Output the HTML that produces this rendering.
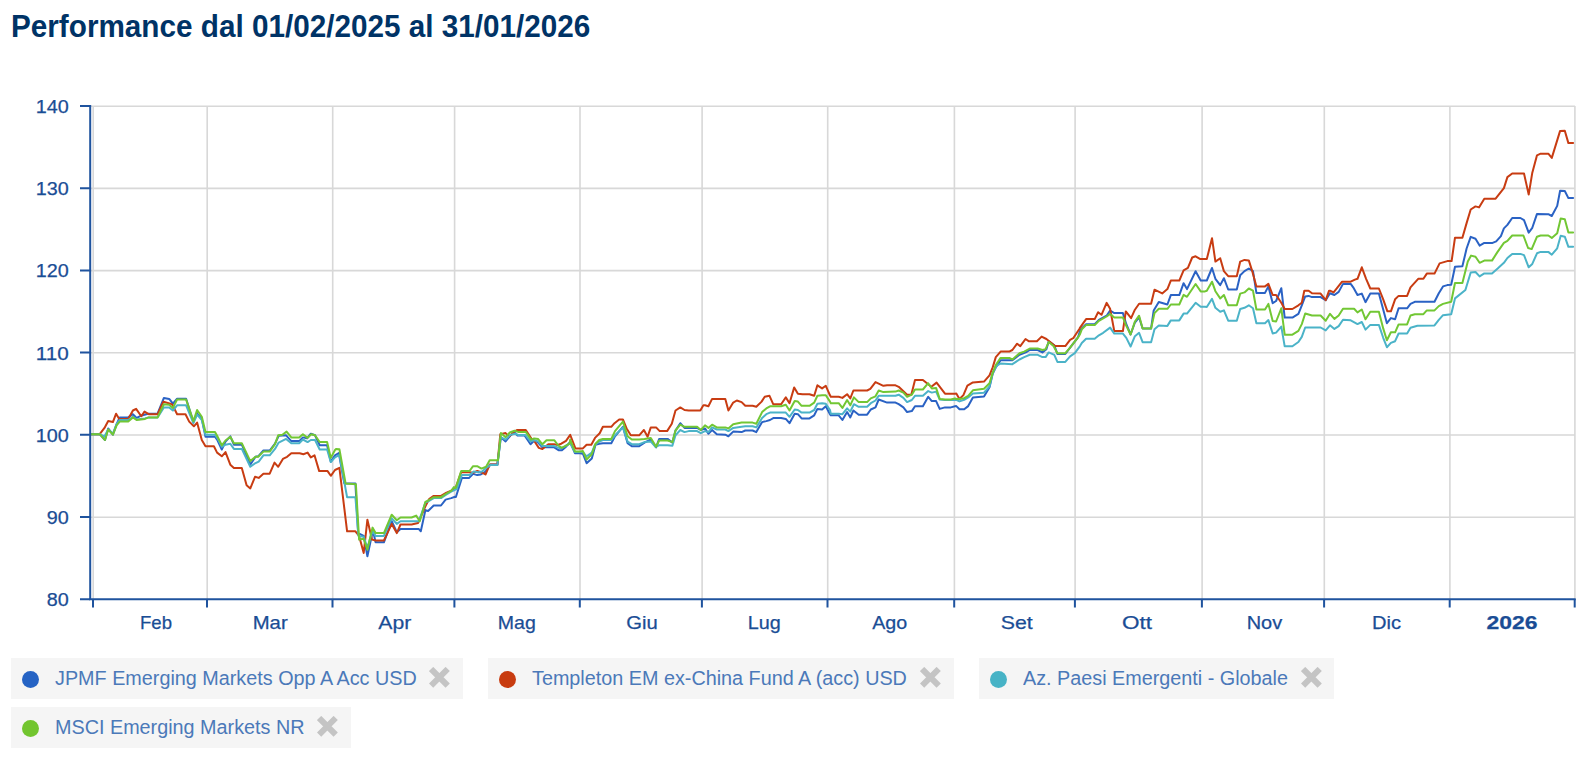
<!DOCTYPE html>
<html><head><meta charset="utf-8">
<style>
html,body{margin:0;padding:0;background:#fff;width:1591px;height:760px;overflow:hidden;}
body{position:relative;font-family:"Liberation Sans",sans-serif;}
#title{position:absolute;left:11px;top:9.0px;font-size:29.7px;font-weight:bold;color:#003366;white-space:nowrap;transform:scaleY(1.055);transform-origin:0 0;}
svg{position:absolute;left:0;top:0;}
.lg{position:absolute;height:41px;background:#f5f5f5;}
.lg .dot{position:absolute;left:11px;top:12.7px;width:17px;height:17px;border-radius:50%;}
.lg .t{position:absolute;left:44px;top:8.2px;font-size:19.8px;color:#4b79b9;white-space:nowrap;transform:scaleY(1.03);transform-origin:0 0;}
.lg svg{position:absolute;top:9px;}
</style></head><body>
<div id="title">Performance dal 01/02/2025 al 31/01/2026</div>
<svg width="1591" height="760" viewBox="0 0 1591 760">
<g stroke="#d8d8d8" stroke-width="1.6" fill="none"><path d="M91 106.20H1575M91 188.40H1575M91 270.60H1575M91 352.80H1575M91 435.00H1575M91 517.20H1575"/><path d="M93.20 106V599M207.20 106V599M332.70 106V599M454.60 106V599M580.00 106V599M702.10 106V599M827.70 106V599M954.40 106V599M1075.10 106V599M1202.10 106V599M1324.30 106V599M1449.90 106V599M1574.90 106V599"/></g>
<g fill="none" stroke-width="2" stroke-linejoin="round" stroke-linecap="round">
<path d="M91.3 434.2L99.7 434.2L105.0 440.0L108.2 428.4L112.9 434.7L116.6 424.2L119.7 417.4L128.2 417.4L132.9 414.2L136.6 417.9L140.8 415.8L148.2 413.7L157.6 413.7L163.9 397.9L169.2 398.9L172.9 403.7L177.1 398.7L186.1 398.7L193.4 422.1L197.1 413.7L201.8 418.9L205.5 436.8L215.0 436.8L217.6 440.5L221.8 449.5L225.5 441.6L230.3 436.3L233.9 444.7L241.8 444.7L250.3 464.7L255.5 456.8L258.2 456.3L263.4 450.5L269.7 450.5L275.0 443.7L278.7 435.8L286.1 435.3L291.3 441.1L299.2 441.1L302.9 437.4L307.1 438.4L310.8 433.7L315.0 435.3L319.7 445.3L327.1 445.3L330.8 461.6L335.0 455.3L338.8 453.0L344.3 483.4L355.4 483.4L358.1 533.1L363.7 535.9L367.4 556.2L372.9 530.4L375.6 542.3L383.9 542.3L391.7 521.2L396.8 532.2L400.5 529.1L418.9 529.1L420.8 531.3L425.4 510.1L428.1 511.0L433.7 505.5L441.0 505.5L445.6 499.6L451.2 498.1L455.0 496.7L455.9 497.0L461.8 478.1L468.9 478.1L473.1 473.9L477.2 475.1L480.8 474.5L485.5 471.6L490.3 464.5L497.4 464.5L500.9 437.2L505.6 441.4L510.4 435.5L514.5 432.5L517.5 435.5L524.6 435.5L530.5 444.3L534.1 440.8L537.6 442.0L542.4 447.3L554.2 447.3L558.9 450.3L561.9 450.3L565.4 447.3L570.2 442.0L574.9 453.2L580.0 453.2L582.9 453.7L586.6 463.2L591.8 458.4L595.5 444.7L599.2 443.7L602.9 443.2L611.3 443.2L615.0 436.3L622.9 426.8L627.6 443.2L631.8 446.3L639.2 446.3L644.5 442.6L650.8 439.5L656.1 447.4L659.2 438.9L667.6 438.9L672.4 442.6L675.5 430.5L680.3 423.2L684.5 427.9L697.1 427.9L700.8 430.0L705.0 428.4L708.4 433.7L712.1 430.0L716.8 434.2L725.3 434.7L728.4 436.3L733.2 431.6L741.6 432.1L745.3 430.5L752.6 430.5L756.3 432.1L762.1 422.1L766.3 421.1L770.0 420.0L773.7 417.9L781.1 417.9L785.8 418.9L789.5 423.2L794.7 413.7L797.9 414.2L801.6 418.4L809.5 418.4L814.2 415.3L817.4 408.9L822.1 409.5L825.8 406.3L830.0 414.2L830.8 415.3L838.7 415.3L842.4 420.0L847.1 412.1L850.3 417.4L853.4 410.5L858.7 414.7L867.1 414.7L870.8 409.5L875.5 407.4L878.7 399.5L887.1 402.6L895.5 402.6L898.7 404.2L903.4 407.4L907.1 412.1L911.8 411.1L915.0 406.3L922.9 406.3L928.2 396.8L931.8 401.1L936.1 401.1L939.7 408.9L945.0 407.4L950.8 407.4L955.0 406.3L956.3 406.1L959.5 409.3L964.2 409.3L968.2 406.1L972.9 397.4L984.0 396.6L989.5 387.2L992.7 373.7L995.8 367.4L1000.6 360.3L1012.4 360.3L1019.5 354.8L1025.8 352.4L1029.8 350.0L1037.7 350.0L1042.4 352.4L1046.4 349.2L1048.7 341.3L1054.3 345.3L1057.4 354.0L1065.3 354.0L1070.1 347.7L1078.0 337.4L1080.0 331.1L1081.0 329.3L1086.1 324.2L1094.7 324.2L1098.9 319.9L1106.6 315.7L1110.1 310.5L1114.3 313.1L1122.9 313.1L1126.3 324.2L1130.6 334.5L1134.9 322.5L1139.1 317.4L1142.6 328.5L1151.1 328.5L1153.7 310.5L1158.8 302.0L1167.4 304.5L1170.8 295.1L1179.3 295.1L1183.6 283.2L1187.0 289.1L1195.6 271.2L1200.7 280.6L1205.0 280.6L1206.8 280.5L1212.0 268.0L1215.4 278.8L1220.2 285.1L1223.9 278.2L1228.2 289.5L1236.8 289.5L1240.2 275.3L1244.5 271.1L1248.8 268.5L1253.0 271.1L1256.4 292.9L1265.0 292.9L1268.4 286.4L1272.7 303.2L1276.1 301.0L1281.3 288.2L1284.7 317.6L1292.4 317.6L1298.4 313.8L1301.8 305.3L1305.2 296.4L1308.6 295.9L1312.0 297.1L1320.6 297.1L1325.7 300.1L1330.0 293.3L1334.4 295.0L1338.7 291.9L1343.0 283.9L1350.7 283.9L1353.2 287.3L1357.5 295.0L1361.8 293.6L1365.5 302.2L1370.3 293.6L1378.9 293.6L1383.2 309.5L1386.9 323.2L1390.9 318.1L1395.1 319.3L1398.6 308.3L1407.1 308.3L1410.5 303.9L1414.8 301.8L1434.5 301.8L1438.8 293.3L1443.0 286.4L1447.3 285.1L1451.2 284.7L1455.0 266.8L1462.4 266.3L1466.6 248.5L1470.7 236.9L1475.5 238.8L1479.6 245.6L1484.3 242.9L1492.6 242.9L1496.2 241.4L1500.9 236.1L1503.9 228.4L1507.4 224.9L1512.2 218.0L1520.4 218.0L1524.0 220.1L1528.7 232.6L1532.3 227.8L1537.0 213.9L1548.3 214.2L1551.8 216.0L1557.2 205.9L1560.1 190.7L1564.8 191.0L1568.4 198.1L1573.1 198.1" stroke="#2a62c4"/>
<path d="M91.3 434.2L99.7 434.2L104.5 427.9L108.2 421.1L112.9 422.1L116.1 413.7L119.2 418.9L128.2 418.9L132.9 410.5L136.1 408.9L141.3 416.3L144.5 411.6L148.7 414.2L157.6 414.2L163.4 401.6L170.3 403.7L172.4 404.7L177.1 414.2L185.5 414.2L189.2 421.6L193.9 426.3L197.1 422.6L201.8 440.0L205.5 446.3L213.9 446.3L217.1 452.6L221.8 456.3L225.5 452.1L230.3 464.7L233.9 467.9L241.8 467.9L246.6 485.3L250.3 488.4L255.0 476.8L258.7 477.9L263.4 473.7L269.7 473.7L274.5 462.6L278.2 466.8L282.9 458.9L287.1 456.8L291.3 453.2L299.7 453.2L303.4 454.2L307.6 452.6L310.8 457.4L314.5 455.3L319.2 471.1L327.6 471.1L330.8 475.8L335.0 470.0L339.4 467.8L347.1 531.3L355.4 531.3L359.1 535.9L363.7 553.0L367.4 519.7L372.0 539.6L375.6 540.5L383.9 540.5L391.7 523.9L396.8 533.1L400.5 524.5L411.6 524.5L418.0 523.0L425.4 506.4L429.1 499.1L433.7 495.9L441.0 495.9L446.5 492.6L451.2 490.8L455.0 488.0L455.9 487.0L461.2 472.2L469.5 472.2L473.1 472.8L477.2 471.0L482.6 472.8L485.5 474.5L489.7 464.5L497.4 464.5L500.3 434.3L505.6 433.1L509.2 436.6L513.9 431.9L516.9 430.1L525.8 430.1L531.7 439.0L534.1 440.8L538.8 447.9L542.4 449.1L545.3 446.7L548.3 444.3L554.2 444.3L557.7 444.9L561.3 443.7L566.0 440.8L570.2 434.9L575.5 448.5L580.0 448.5L582.9 448.4L586.6 444.7L591.3 444.7L595.0 437.9L599.7 433.2L602.9 426.8L611.3 426.8L614.5 423.2L619.2 419.5L622.9 419.5L626.6 428.4L630.8 435.3L639.2 435.3L643.9 430.0L647.6 436.8L650.8 427.4L656.1 427.4L659.7 431.1L667.1 431.1L671.8 423.7L675.5 410.5L680.3 407.4L684.5 410.0L688.7 410.5L700.3 410.5L703.4 405.3L705.0 405.3L708.4 406.3L712.1 398.9L725.3 398.9L728.4 410.5L733.2 402.6L736.8 400.5L741.6 402.1L745.3 405.8L752.6 405.8L756.3 406.8L761.6 401.6L764.7 396.8L769.5 395.8L773.2 404.2L781.1 404.2L785.8 397.4L789.5 403.2L794.2 387.4L797.9 393.7L802.6 394.2L809.5 394.2L814.2 395.8L817.4 385.3L822.1 388.4L825.8 385.8L830.0 395.3L830.8 396.8L838.7 396.8L842.4 397.9L847.1 394.2L850.3 398.4L853.4 390.5L867.1 390.5L870.3 388.9L875.5 382.1L883.4 385.8L887.1 385.3L895.5 385.3L898.7 386.8L907.1 394.7L911.3 394.7L915.0 380.0L922.9 380.0L931.3 386.8L936.6 382.6L945.0 393.7L955.0 393.7L956.3 393.5L959.5 399.0L963.4 395.1L967.4 385.6L972.9 382.4L984.0 381.6L989.5 375.3L992.7 367.4L995.8 357.1L1000.6 351.6L1009.2 351.6L1012.4 350.0L1017.1 343.7L1020.3 346.1L1025.5 339.0L1029.0 341.3L1036.9 341.3L1041.6 336.6L1046.4 339.0L1055.1 346.1L1065.3 346.1L1070.1 339.8L1073.2 338.2L1079.5 328.7L1080.1 327.6L1086.1 319.1L1094.7 319.1L1098.1 312.2L1101.5 314.8L1106.6 302.8L1110.1 308.8L1114.3 331.1L1122.9 331.1L1125.8 311.4L1131.1 318.2L1134.9 309.7L1139.1 303.7L1151.1 303.7L1154.5 289.7L1162.2 293.4L1167.4 289.1L1170.8 280.6L1179.3 280.6L1183.6 270.3L1187.9 267.8L1192.2 257.5L1195.6 256.3L1199.9 258.9L1205.0 258.9L1206.8 259.1L1212.0 238.2L1215.4 261.6L1220.2 258.2L1223.9 271.1L1228.2 276.2L1236.8 276.2L1240.2 261.6L1244.5 259.9L1248.8 260.4L1252.2 271.1L1256.4 286.4L1265.0 286.4L1268.4 283.9L1272.7 295.0L1276.1 295.0L1281.3 302.7L1284.7 309.0L1292.4 309.0L1298.4 305.3L1301.8 302.7L1304.3 290.7L1308.6 290.7L1312.0 293.3L1320.6 293.6L1325.7 300.1L1329.1 290.7L1330.0 290.7L1333.6 292.4L1342.1 281.7L1350.7 281.7L1354.9 279.6L1357.5 278.8L1361.8 267.3L1366.1 278.8L1370.3 288.5L1378.9 288.5L1383.2 299.3L1387.4 311.3L1390.9 311.3L1395.1 299.3L1398.6 295.9L1407.1 295.9L1410.5 287.3L1418.2 278.8L1423.4 278.8L1426.8 273.6L1434.5 273.6L1439.6 263.4L1447.3 261.1L1451.6 261.1L1455.0 237.7L1462.4 237.7L1466.6 223.1L1470.7 209.5L1475.5 206.4L1479.0 207.4L1484.3 198.7L1495.6 198.7L1503.9 188.1L1507.4 177.1L1512.2 173.5L1524.0 173.5L1528.7 194.6L1532.3 172.7L1537.0 155.3L1540.6 153.7L1548.3 153.7L1551.8 157.9L1560.1 130.9L1564.8 130.7L1568.4 143.1L1573.1 143.1" stroke="#c83c12"/>
<path d="M91.3 434.2L99.7 434.2L104.5 436.3L108.2 429.5L112.9 433.7L116.6 424.2L119.7 420.0L128.2 420.0L132.9 416.8L136.6 419.5L145.0 418.4L148.7 417.4L157.6 417.4L163.9 407.4L169.2 407.4L172.9 410.5L177.1 405.3L186.1 405.3L193.4 423.2L197.1 414.7L201.8 420.0L205.5 434.7L215.0 434.7L218.2 439.5L221.8 446.8L225.5 444.7L230.3 443.7L233.9 448.9L241.8 448.9L250.3 466.8L254.5 463.7L258.7 461.6L263.4 455.3L269.7 455.3L275.0 448.9L278.7 442.6L286.1 438.9L291.3 443.2L299.2 443.2L302.9 439.5L307.6 442.1L310.8 440.0L315.0 440.0L319.7 449.5L327.1 449.5L330.8 462.1L335.0 457.4L339.4 454.9L347.1 497.2L355.4 497.2L358.5 535.9L363.7 536.8L367.4 547.9L372.5 530.4L375.6 535.9L383.9 535.9L391.7 518.4L396.8 523.9L400.5 521.2L418.9 521.2L425.4 502.7L429.1 500.9L433.7 498.1L441.0 498.1L446.5 494.5L451.2 491.7L455.0 489.9L456.5 489.3L461.8 475.1L469.5 475.1L473.7 471.6L478.4 472.2L482.0 471.6L486.1 468.0L490.3 465.1L497.4 465.1L500.7 437.2L505.6 439.6L510.4 434.9L515.1 433.7L518.1 434.9L525.2 434.9L530.5 441.4L534.1 440.2L538.2 441.4L542.4 446.1L554.2 446.1L558.9 447.9L561.9 447.9L565.4 446.1L570.2 443.2L574.9 452.0L580.0 452.0L582.9 452.1L586.6 456.3L591.8 452.6L595.0 444.7L599.2 441.6L602.9 440.0L611.3 440.0L615.0 435.3L622.9 427.4L627.6 441.6L631.8 444.2L639.2 444.2L644.5 442.1L650.8 441.6L655.5 446.8L659.2 445.3L667.6 445.3L672.4 445.8L675.5 435.3L680.3 430.0L684.5 432.1L688.7 431.1L697.1 431.1L700.8 433.2L705.0 431.1L708.4 432.1L712.1 427.4L716.8 429.5L725.3 429.5L728.4 431.1L733.2 427.9L741.6 426.8L745.3 426.3L752.6 426.3L756.3 427.4L762.1 417.9L766.3 414.2L770.0 412.6L773.7 412.6L781.1 412.6L785.8 412.6L789.5 416.8L794.7 409.5L797.9 410.0L801.6 412.6L809.5 412.6L814.2 410.0L817.4 403.7L822.1 403.2L825.8 403.7L830.0 410.0L830.8 413.7L838.7 413.7L842.4 414.2L847.1 408.4L850.3 411.6L853.9 404.2L858.7 406.8L867.1 406.8L870.8 403.2L875.5 400.5L878.7 395.8L887.1 395.8L895.5 395.8L898.7 394.7L903.4 397.9L907.1 402.1L911.8 400.0L915.0 395.8L922.9 395.8L928.2 391.1L931.8 392.6L936.1 391.6L939.7 399.5L945.0 400.0L955.0 400.0L956.3 399.8L959.5 401.4L964.2 399.8L968.2 397.4L972.9 393.5L984.0 392.7L989.5 386.4L992.7 372.9L996.6 365.8L1000.6 363.5L1012.4 364.2L1019.5 359.5L1024.2 357.1L1029.8 354.8L1037.7 354.8L1042.4 357.1L1045.6 357.1L1048.7 352.4L1054.3 354.8L1057.4 361.9L1065.3 361.9L1070.1 356.4L1074.8 353.2L1080.0 346.1L1081.8 343.0L1086.1 338.8L1094.7 338.8L1098.9 335.3L1103.2 332.8L1110.1 327.6L1114.3 333.6L1122.9 333.6L1126.3 337.9L1130.6 346.5L1134.9 336.2L1139.1 332.8L1142.6 342.2L1151.1 342.2L1154.5 329.3L1158.8 325.6L1167.4 325.9L1170.8 320.4L1179.3 320.4L1183.6 313.6L1187.0 313.6L1195.6 302.8L1200.7 306.8L1205.0 306.8L1206.8 307.0L1212.0 298.8L1215.4 307.8L1220.2 311.8L1223.9 310.4L1228.2 320.7L1236.8 320.7L1240.2 309.0L1244.5 307.8L1248.8 305.3L1253.0 308.3L1256.4 323.2L1265.0 323.2L1268.4 320.1L1272.7 333.5L1276.1 332.6L1281.3 326.6L1284.7 346.3L1292.4 346.3L1298.4 342.0L1301.8 336.9L1305.2 327.5L1312.0 327.5L1320.6 327.5L1325.7 330.4L1330.0 325.3L1334.4 328.9L1338.7 326.1L1343.0 319.8L1350.7 320.3L1357.5 324.1L1361.8 322.0L1365.5 329.6L1370.3 324.9L1378.9 324.9L1383.2 337.8L1386.9 347.2L1390.9 342.9L1395.1 341.2L1398.6 333.5L1407.1 333.5L1410.5 327.8L1417.4 325.8L1434.5 325.4L1438.8 319.8L1443.0 315.2L1451.2 314.2L1455.0 298.4L1465.4 290.0L1470.7 272.5L1475.5 272.0L1479.6 276.4L1484.3 273.4L1492.0 273.4L1497.4 268.7L1503.9 262.8L1507.4 258.0L1512.2 253.9L1520.4 253.9L1524.0 255.1L1528.7 267.3L1532.3 263.9L1537.0 253.3L1540.6 251.9L1548.3 251.9L1551.8 254.7L1557.2 248.3L1560.7 235.8L1564.8 236.7L1568.4 246.8L1573.1 246.8" stroke="#4bb3c8"/>
<path d="M91.3 434.2L99.7 434.2L105.0 440.0L108.2 429.5L112.9 434.7L116.6 425.3L119.7 421.6L128.2 421.6L132.9 417.4L136.6 420.0L145.0 418.9L148.7 417.4L157.6 417.4L163.9 404.2L169.2 404.7L172.9 407.9L177.1 399.5L186.1 399.5L193.4 421.1L197.1 410.0L201.8 416.8L205.5 432.1L215.0 432.1L217.1 435.8L221.8 445.3L225.5 440.5L230.3 436.8L233.9 443.2L241.8 443.2L250.3 461.1L255.5 456.8L258.2 456.8L263.4 451.6L269.7 451.6L275.0 444.2L278.2 435.3L282.4 434.7L286.6 431.6L291.3 437.4L299.2 437.4L302.9 434.2L307.6 437.9L311.3 434.2L315.0 435.3L319.7 442.1L327.1 442.1L330.8 457.9L335.0 450.0L336.0 449.0L339.4 449.3L345.6 483.4L355.9 484.3L359.1 539.6L363.7 538.7L367.4 549.7L372.5 527.6L375.6 533.1L383.9 533.1L391.7 514.7L396.8 520.2L400.5 517.5L411.6 517.5L416.2 515.6L419.8 521.2L425.4 501.8L429.1 500.0L433.7 497.2L441.0 497.2L446.5 493.5L451.2 490.8L453.9 487.1L455.0 488.0L455.9 487.6L461.2 471.0L469.5 471.0L473.1 466.2L477.2 466.2L481.4 468.6L486.1 466.8L489.7 460.3L498.0 460.3L500.9 433.1L505.6 437.2L509.8 432.5L514.5 430.7L518.1 431.9L525.8 431.9L531.1 439.6L534.1 438.4L538.2 439.0L542.4 444.3L546.5 440.2L554.2 440.2L558.3 445.5L561.9 447.9L569.6 443.7L570.2 439.6L574.9 451.4L580.0 451.4L582.9 451.1L586.6 459.5L591.8 454.2L595.5 443.7L599.2 440.0L602.9 438.9L611.3 438.9L615.0 431.1L622.9 421.6L627.6 436.3L631.8 439.5L639.2 439.5L644.5 438.9L650.8 437.9L656.1 446.8L659.2 440.5L667.6 440.5L672.4 442.1L675.5 430.5L680.3 424.7L684.5 426.8L697.1 426.8L700.8 430.0L705.0 425.3L708.4 427.9L712.1 424.7L716.8 427.4L725.3 427.4L728.4 428.4L733.2 424.2L741.6 422.6L745.3 422.6L752.6 422.6L756.3 423.7L762.1 412.1L766.3 408.4L770.0 406.3L773.7 406.3L781.1 406.3L785.8 404.7L789.5 410.5L794.7 401.1L797.9 401.6L801.6 405.8L809.5 405.8L814.2 402.6L817.4 395.8L822.1 395.3L825.8 395.3L830.0 401.6L830.8 403.2L838.7 403.2L842.4 407.9L847.1 400.0L850.3 405.3L853.9 397.4L858.7 402.1L867.1 402.1L870.8 398.4L875.5 396.3L878.7 390.5L883.4 392.1L895.5 391.6L898.7 390.5L903.4 392.6L907.1 396.8L911.8 394.7L915.0 389.5L922.9 389.5L928.2 383.2L931.8 388.4L936.1 387.9L939.7 398.9L945.0 399.5L950.8 399.5L955.0 398.4L956.3 399.0L959.5 399.0L964.2 398.2L968.2 395.8L972.9 390.3L984.0 388.7L989.5 383.2L992.7 372.9L995.8 365.0L1000.6 357.9L1009.2 357.9L1012.4 359.5L1019.5 353.2L1024.2 351.6L1029.8 348.5L1037.7 348.5L1042.4 350.0L1045.6 349.2L1048.7 342.1L1053.5 346.1L1057.4 353.2L1065.3 353.2L1070.1 347.7L1078.0 337.4L1080.0 334.2L1081.8 329.3L1086.1 325.1L1094.7 325.1L1098.9 320.8L1106.6 316.5L1110.1 313.9L1114.3 317.4L1122.9 317.4L1126.3 325.9L1130.6 334.5L1134.9 321.6L1139.1 315.7L1142.6 328.5L1151.1 328.5L1154.5 313.1L1158.8 308.8L1167.4 308.8L1170.8 304.5L1179.3 304.5L1183.6 294.8L1187.0 296.8L1195.6 284.0L1200.7 291.4L1205.0 291.4L1206.8 290.7L1212.0 281.7L1215.4 291.2L1220.2 298.4L1223.9 295.0L1228.2 305.3L1236.8 305.3L1240.2 293.6L1244.5 292.4L1248.8 288.5L1253.0 290.7L1256.4 309.5L1265.0 309.5L1268.4 303.9L1272.7 321.0L1276.1 321.5L1281.3 308.3L1284.7 334.7L1292.4 334.7L1298.4 330.9L1301.8 324.1L1305.2 313.5L1312.0 315.5L1320.6 315.5L1325.7 320.7L1330.0 313.8L1334.4 318.9L1338.7 315.5L1343.0 308.7L1354.1 308.7L1357.5 312.4L1361.8 309.5L1365.5 319.3L1370.3 311.8L1378.9 311.8L1383.2 328.4L1386.9 340.3L1390.9 332.3L1395.1 332.3L1398.6 324.4L1407.1 324.4L1410.5 315.5L1414.8 314.2L1423.4 314.2L1426.8 310.4L1434.5 310.4L1438.8 306.1L1443.0 303.9L1451.2 301.8L1455.0 283.0L1462.4 282.9L1467.8 261.6L1471.1 255.6L1475.5 256.8L1479.6 262.8L1484.3 260.6L1492.0 260.6L1497.4 252.1L1503.9 242.9L1507.4 240.8L1512.2 235.5L1523.4 235.5L1528.1 248.0L1531.7 249.1L1537.0 236.7L1540.6 235.5L1548.3 235.5L1551.8 237.9L1557.2 233.2L1560.7 218.4L1564.8 219.2L1568.4 232.6L1573.1 232.6" stroke="#72c734"/>
</g>
<g stroke="#1f539e" stroke-width="2" fill="none"><path d="M90.20 105V600"/><path d="M80 106.00H90M80 188.20H90M80 270.40H90M80 352.60H90M80 434.80H90M80 517.00H90M80 599.20H90"/><path d="M89 599.20H1575.7"/><path d="M93.00 599V607.5M207.00 599V607.5M332.50 599V607.5M454.40 599V607.5M579.80 599V607.5M701.90 599V607.5M827.50 599V607.5M954.20 599V607.5M1074.90 599V607.5M1201.90 599V607.5M1324.10 599V607.5M1449.70 599V607.5M1574.70 599V607.5"/></g>
<g font-family="Liberation Sans" font-size="19" fill="#1a4d95" stroke="#1a4d95" stroke-width="0.25"><text x="68.70" y="113.00" text-anchor="end" textLength="33.00" lengthAdjust="spacingAndGlyphs">140</text><text x="68.70" y="195.20" text-anchor="end" textLength="33.00" lengthAdjust="spacingAndGlyphs">130</text><text x="68.70" y="277.40" text-anchor="end" textLength="33.00" lengthAdjust="spacingAndGlyphs">120</text><text x="68.70" y="359.60" text-anchor="end" textLength="33.00" lengthAdjust="spacingAndGlyphs">110</text><text x="68.70" y="441.80" text-anchor="end" textLength="33.00" lengthAdjust="spacingAndGlyphs">100</text><text x="68.70" y="524.00" text-anchor="end" textLength="22.00" lengthAdjust="spacingAndGlyphs">90</text><text x="68.70" y="606.20" text-anchor="end" textLength="22.00" lengthAdjust="spacingAndGlyphs">80</text><text x="156.00" y="629.00" text-anchor="middle" textLength="32.00" lengthAdjust="spacingAndGlyphs">Feb</text><text x="270.20" y="629.00" text-anchor="middle" textLength="35.00" lengthAdjust="spacingAndGlyphs">Mar</text><text x="394.80" y="629.00" text-anchor="middle" textLength="33.00" lengthAdjust="spacingAndGlyphs">Apr</text><text x="516.80" y="629.00" text-anchor="middle" textLength="38.00" lengthAdjust="spacingAndGlyphs">Mag</text><text x="642.10" y="629.00" text-anchor="middle" textLength="31.50" lengthAdjust="spacingAndGlyphs">Giu</text><text x="764.20" y="629.00" text-anchor="middle" textLength="33.00" lengthAdjust="spacingAndGlyphs">Lug</text><text x="889.70" y="629.00" text-anchor="middle" textLength="35.00" lengthAdjust="spacingAndGlyphs">Ago</text><text x="1016.80" y="629.00" text-anchor="middle" textLength="32.00" lengthAdjust="spacingAndGlyphs">Set</text><text x="1137.00" y="629.00" text-anchor="middle" textLength="30.00" lengthAdjust="spacingAndGlyphs">Ott</text><text x="1264.40" y="629.00" text-anchor="middle" textLength="35.50" lengthAdjust="spacingAndGlyphs">Nov</text><text x="1386.60" y="629.00" text-anchor="middle" textLength="29.00" lengthAdjust="spacingAndGlyphs">Dic</text><text x="1512.00" y="629.00" text-anchor="middle" textLength="51.00" lengthAdjust="spacingAndGlyphs" font-weight="bold">2026</text></g>
</svg>
<div class="lg" style="left:11px;top:658px;width:452px;"><div class="dot" style="background:#2563c4"></div><div class="t">JPMF Emerging Markets Opp A Acc USD</div><svg style="left:418.0px" width="22" height="22" viewBox="0 0 22 22"><path d="M2.1 2L18.7 18.7M18.7 2L2.1 18.7" stroke="#c4c4c4" stroke-width="6"/></svg></div>
<div class="lg" style="left:488px;top:658px;width:466px;"><div class="dot" style="background:#c83c10"></div><div class="t">Templeton EM ex-China Fund A (acc) USD</div><svg style="left:431.5px" width="22" height="22" viewBox="0 0 22 22"><path d="M2.1 2L18.7 18.7M18.7 2L2.1 18.7" stroke="#c4c4c4" stroke-width="6"/></svg></div>
<div class="lg" style="left:979px;top:658px;width:355px;"><div class="dot" style="background:#47b3c6"></div><div class="t">Az. Paesi Emergenti - Globale</div><svg style="left:321.7px" width="22" height="22" viewBox="0 0 22 22"><path d="M2.1 2L18.7 18.7M18.7 2L2.1 18.7" stroke="#c4c4c4" stroke-width="6"/></svg></div>
<div class="lg" style="left:11px;top:707px;width:340px;"><div class="dot" style="background:#72c52f"></div><div class="t">MSCI Emerging Markets NR</div><svg style="left:306.2px" width="22" height="22" viewBox="0 0 22 22"><path d="M2.1 2L18.7 18.7M18.7 2L2.1 18.7" stroke="#c4c4c4" stroke-width="6"/></svg></div>
</body></html>
